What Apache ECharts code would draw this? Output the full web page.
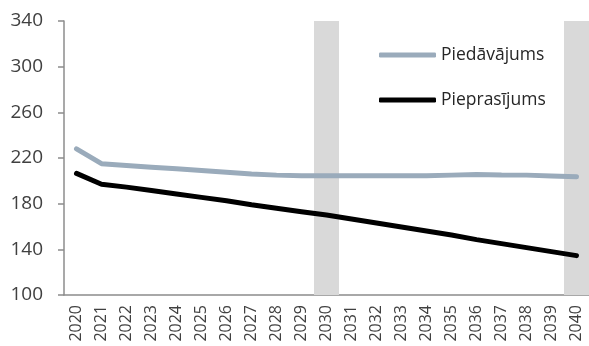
<!DOCTYPE html>
<html>
<head>
<meta charset="utf-8">
<script src="https://cdn.jsdelivr.net/npm/echarts@6/dist/echarts.min.js"></script>
<style>
  html, body { margin: 0; padding: 0; background: #fff; }
  #chart { width: 589px; height: 346px; }
</style>
</head>
<body>
<div id="chart"></div>
<script>
var years = ['2020','2021','2022','2023','2024','2025','2026','2027','2028','2029','2030',
             '2031','2032','2033','2034','2035','2036','2037','2038','2039','2040'];
var piedavajums = [228, 215, 213.5, 212, 210.5, 209, 207.5, 206, 205, 204.5, 204.5,
                   204.5, 204.5, 204.5, 204.5, 205, 205.5, 205.2, 205, 204.3, 203.5];
var pieprasijums = [206.5, 197, 194.5, 191.5, 188.5, 185.5, 182.5, 179, 176, 173, 170,
                    166.5, 163, 159.5, 156, 152.5, 148.5, 145, 141.5, 138, 134.5];
var bands = [null, null, null, null, null, null, null, null, null, null, 340,
             null, null, null, null, null, null, null, null, null, 340];
var yTicks = { min: 100, max: 340, step: 40 };

var myChart = echarts.init(document.getElementById('chart'));
var option = {
    animation: false,
    textStyle: { fontFamily: 'Open Sans' },
    grid: { left: 64, right: -2, top: 21, bottom: 51 },
    legend: {
        orient: 'vertical',
        left: 374,
        top: 41,
        itemGap: 27,
        itemWidth: 57,
        itemHeight: 5,
        icon: 'roundRect',
        textStyle: { fontSize: 17.5, color: '#262626', fontFamily: 'Open Sans' },
        data: ['Piedāvājums', 'Pieprasījums']
    },
    xAxis: {
        type: 'category',
        data: years,
        boundaryGap: true,
        axisLine: { lineStyle: { color: '#8c8c8c', width: 1.5 } },
        axisTick: { length: 6, lineStyle: { color: '#8c8c8c', width: 1.5 } },
        axisLabel: { rotate: 90, margin: 10, fontSize: 16, color: '#404040', interval: 0 }
    },
    yAxis: {
        type: 'value',
        min: yTicks.min,
        max: yTicks.max,
        interval: yTicks.step,
        splitLine: { show: false },
        axisLine: { show: true, lineStyle: { color: '#8c8c8c', width: 1.5 } },
        axisTick: { show: true, length: 6, lineStyle: { color: '#8c8c8c', width: 1.5 } },
        axisLabel: { margin: 21, fontSize: 19, color: '#404040' }
    },
    series: [
        {
            name: 'band',
            type: 'bar',
            data: bands,
            barWidth: '100%',
            silent: true,
            z: 1,
            itemStyle: { color: '#d9d9d9' }
        },
        {
            name: 'Piedāvājums',
            type: 'line',
            data: piedavajums,
            showSymbol: false,
            symbol: 'none',
            z: 3,
            lineStyle: { color: '#9aabbb', width: 5, cap: 'round' },
            itemStyle: { color: '#9aabbb' }
        },
        {
            name: 'Pieprasījums',
            type: 'line',
            data: pieprasijums,
            showSymbol: false,
            symbol: 'none',
            z: 4,
            lineStyle: { color: '#000000', width: 5, cap: 'round' },
            itemStyle: { color: '#000000' }
        }
    ]
};
myChart.setOption(option);
</script>
</body>
</html>
